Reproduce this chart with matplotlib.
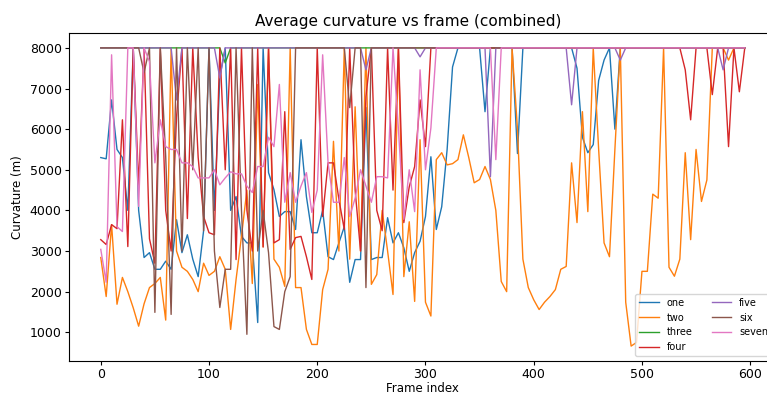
import numpy as np
import matplotlib
matplotlib.use("Agg")
import matplotlib.pyplot as plt

frames = np.arange(0, 600, 5)

# curvature per frame (8000 = capped value)
one = [5300, 5270, 6720, 5500, 5300, 4000, 8000, 4000, 2840, 2960,
       2550, 2550, 2750, 2550, 3770, 2960, 3400, 2800, 2370, 3500,
       8000, 4000, 7290, 8000, 4000, 4340, 3360, 3200, 3200, 1240,
       8000, 4930, 4510, 3850, 3970, 3970, 3530, 5740, 4340, 3450,
       3450, 4000, 2860, 2790, 3200, 3600, 2230, 2790, 2790, 6530,
       2790, 2840, 2840, 3820, 3200, 3450, 3080, 2500, 2960, 3240,
       3850, 5320, 3530, 4090, 5500, 7530, 8000, 8000, 8000, 8000,
       8000, 6430, 8000, 8000, 8000, 8000, 8000, 5400, 8000, 8000,
       8000, 8000, 8000, 8000, 8000, 8000, 8000, 8000, 7500, 5800,
       5420, 5620, 7200, 7700, 8000, 6000, 8000, 8000, 8000, 8000,
       8000, 8000, 8000, 8000, 8000, 8000, 8000, 8000, 8000, 8000,
       8000, 8000, 8000, 8000, 8000, 8000, 8000, 8000, 8000, 8000]

two = [2840, 1880, 3650, 1690, 2350, 2000, 1600, 1150, 1700, 2100,
       2200, 2350, 1300, 8000, 3000, 2600, 2500, 2300, 2000, 2700,
       2400, 2500, 2860, 2550, 1070, 2300, 3360, 4500, 2200, 7100,
       3100, 8000, 2800, 2600, 2130, 8000, 2100, 2100, 1070, 700,
       700, 2050, 2550, 5700, 3000, 8000, 2800, 6550, 3000, 8000,
       2180, 2420, 4000, 3000, 1930, 8000, 2370, 3720, 1760, 5740,
       1740, 1400, 5250, 5420, 5120, 5150, 5250, 5860, 5300, 4680,
       4760, 5080, 4760, 4000, 2250, 2000, 8000, 6000, 2800, 2100,
       1800, 1560, 1740, 1880, 2050, 2550, 2620, 5170, 3700, 6430,
       3970, 8000, 5500, 3200, 2860, 5500, 8000, 1740, 660, 750,
       2500, 2500, 4400, 4300, 8000, 2600, 2380, 2800, 5420, 3280,
       5500, 4220, 4750, 8000, 8000, 8000, 7700, 8000, 8000, 8000]

three = [8000] * 23 + [7630] + [8000] * 96

four = [3280, 3160, 3650, 3550, 6230, 3110, 8000, 4600, 8000, 3300,
        2700, 8000, 4000, 3000, 6300, 8000, 3800, 8000, 5300, 3850,
        3450, 3400, 8000, 5000, 8000, 2790, 8000, 4000, 3000, 8000,
        3100, 8000, 3200, 3280, 6430, 3040, 3330, 3360, 2860, 2300,
        8000, 3850, 5170, 5170, 4270, 3530, 8000, 4500, 3000, 6800,
        8000, 4000, 3500, 8000, 4500, 8000, 3700, 4580, 5080, 6720,
        5570, 8000, 8000, 8000, 8000, 8000, 8000, 8000, 8000, 8000,
        8000, 8000, 8000, 8000, 8000, 8000, 8000, 8000, 8000, 8000,
        8000, 8000, 8000, 8000, 8000, 8000, 8000, 8000, 8000, 8000,
        8000, 8000, 8000, 8000, 8000, 8000, 8000, 8000, 8000, 8000,
        8000, 8000, 8000, 8000, 8000, 8000, 8000, 8000, 7460, 6230,
        8000, 8000, 8000, 6850, 8000, 8000, 5570, 8000, 6920, 8000]

five = ([8000] * 14 + [6720] + [8000] * 7 + [7260] + [8000] * 26 + [7460]
        + [8000] * 9 + [7780] + [8000] * 12 + [4830] + [8000] * 14 + [6600]
        + [8000] * 8 + [7700] + [8000] * 18 + [7460] + [8000] * 4)

six = [8000, 8000, 8000, 8000, 8000, 8000, 8000, 8000, 7390, 8000,
       1490, 8000, 5320, 1440, 8000, 3000, 8000, 5000, 8000, 3500,
       8000, 3000, 1610, 2550, 2550, 8000, 4000, 950, 8000, 3000,
       4000, 2960, 1140, 1070, 2000, 2370, 8000, 8000, 8000, 8000,
       8000, 8000, 8000, 8000, 8000, 8000, 6530, 8000, 8000, 2100,
       8000, 8000, 8000, 8000, 8000, 8000, 8000, 8000, 8000, 8000,
       8000, 8000, 8000, 8000, 8000, 8000, 8000, 8000, 8000, 8000,
       8000, 8000, 8000, 8000, 8000, 8000, 8000, 8000, 8000, 8000,
       8000, 8000, 8000, 8000, 8000, 8000, 8000, 8000, 8000, 8000,
       8000, 8000, 8000, 8000, 8000, 8000, 8000, 8000, 8000, 8000,
       8000, 8000, 8000, 8000, 8000, 8000, 8000, 8000, 8000, 8000,
       8000, 8000, 8000, 8000, 8000, 8000, 8000, 8000, 8000, 8000]

seven = [3040, 2230, 7830, 3600, 3480, 8000, 8000, 4100, 8000, 7660,
         5170, 6230, 5570, 5500, 5500, 5170, 5170, 5080, 4800, 4800,
         4800, 5000, 4630, 4800, 4950, 4900, 4900, 4600, 4440, 5080,
         5080, 5800, 5570, 7100, 4200, 4930, 4200, 4600, 4930, 3950,
         4500, 7830, 5170, 4200, 4200, 5300, 3850, 4300, 5000, 4600,
         4200, 4830, 4830, 4800, 8000, 6000, 3780, 5000, 3970, 7460,
         5000, 6030, 8000, 8000, 8000, 8000, 8000, 8000, 8000, 8000,
         8000, 8000, 8000, 5250, 8000, 8000, 8000, 8000, 8000, 8000,
         8000, 8000, 8000, 8000, 8000, 8000, 8000, 8000, 8000, 8000,
         8000, 8000, 8000, 8000, 8000, 8000, 8000, 8000, 8000, 8000,
         8000, 8000, 8000, 8000, 8000, 8000, 8000, 8000, 8000, 8000,
         8000, 8000, 8000, 8000, 8000, 8000, 8000, 8000, 8000, 8000]

series = {"one": one, "two": two, "three": three, "four": four,
          "five": five, "six": six, "seven": seven}

fig = plt.figure(figsize=(7.67, 3.96), dpi=100)
# axes run past the right edge, as in the cropped original
ax = fig.add_axes([0.0894, 0.0884, 0.9236, 0.8283])

for name, vals in series.items():
    ax.plot(frames, vals, linewidth=1.0, label=name)

ax.set_title("Average curvature vs frame (combined)", fontsize=11, x=0.479, pad=5)
ax.set_xlabel("Frame index", fontsize=8.5, labelpad=1)
ax.set_ylabel("Curvature (m)", fontsize=8.5, labelpad=4)
ax.tick_params(labelsize=9, length=3, pad=2)
ax.legend(loc="lower right", ncol=2, fontsize=7)

fig.savefig("out.png", dpi=100)
